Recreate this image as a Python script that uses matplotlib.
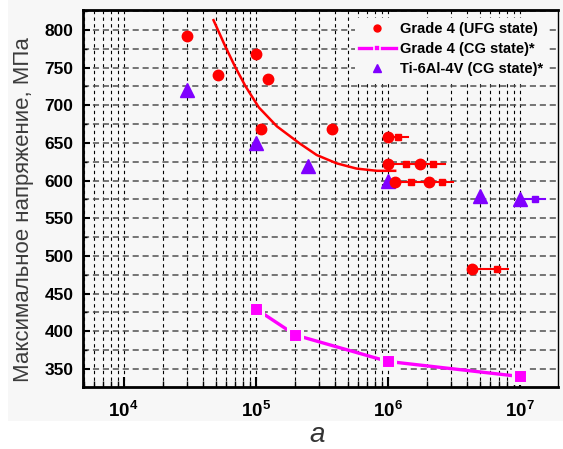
"""Усталостные кривые: Grade 4 (UFG / CG) и Ti-6Al-4V."""
import matplotlib
matplotlib.use("Agg")
import matplotlib.pyplot as plt
from matplotlib.patches import Rectangle
from matplotlib.ticker import LogLocator, MultipleLocator, FixedLocator, FixedFormatter, NullFormatter

plt.rcParams["font.family"] = ["Liberation Sans", "DejaVu Sans"]

# Grade 4 (UFG state) — точки
ufg_n = [3.0e4, 5.2e4, 1.0e5, 1.09e5, 1.25e5, 3.8e5, 1.0e6, 1.0e6, 1.75e6, 1.14e6, 2.04e6, 4.35e6]
ufg_s = [792, 740, 768, 668, 735, 668, 658, 622, 622, 598, 598, 483]

# аппроксимирующая кривая UFG
fit_n = [4.8e4, 5.9e4, 7.0e4, 8.4e4, 1.06e5, 1.45e5, 2.17e5, 2.9e5, 4.1e5, 5.8e5, 8.3e5, 1.14e6]
fit_s = [813, 778, 751, 725, 697, 672, 649, 634, 623, 616, 613, 613]

# стрелки "не разрушился" (UFG): уровень, начало, конец, метки-квадраты
runout_s = [658, 622, 598, 483]
runout_start = [1.0e6, 1.0e6, 1.14e6, 4.35e6]
runout_end = [1.42e6, 2.7e6, 3.1e6, 8.1e6]
runout_marks = [[1.19e6], [1.38e6, 2.2e6], [1.51e6, 2.6e6], [6.7e6]]

# Grade 4 (CG state)*
cg_n = [1e5, 2e5, 1e6, 1e7]
cg_s = [430, 395, 360, 340]

# Ti-6Al-4V (CG state)*
ti_n = [3e4, 1e5, 2.5e5, 1e6, 5e6, 1e7]
ti_s = [720, 650, 620, 600, 580, 575]
ti_runout = [1.0e7, 1.3e7, 1.55e7]

RED = "#ff0000"
MAG = "#ff00ff"
VIO = "#8000ff"
BG = "#f7f7f7"

fig = plt.figure(figsize=(5.63, 4.49), dpi=100, facecolor="white")
fig.patches.append(Rectangle((8 / 563, 28 / 449), 1, 1, transform=fig.transFigure,
                             facecolor=BG, edgecolor="none", zorder=-10))
ax = fig.add_axes([83 / 563, 1 - 387 / 449, (558 - 83) / 563, (387 - 10) / 449])
ax.set_facecolor(BG)
ax.set_xscale("log")
ax.set_xlim(4.93e3, 1.95e7)
ax.set_ylim(326, 826.5)

# сетка
ax.xaxis.set_major_locator(FixedLocator([1e4, 1e5, 1e6, 1e7]))
ax.xaxis.set_major_formatter(FixedFormatter([r"$\mathdefault{10^{4}}$", r"$\mathdefault{10^{5}}$",
                                             r"$\mathdefault{10^{6}}$", r"$\mathdefault{10^{7}}$"]))
ax.xaxis.set_minor_locator(LogLocator(base=10, subs=range(2, 10), numticks=20))
ax.xaxis.set_minor_formatter(NullFormatter())
ax.yaxis.set_major_locator(MultipleLocator(50))
ax.yaxis.set_minor_locator(MultipleLocator(25))
ax.grid(which="both", axis="x", color="black", linestyle=(0, (3, 3)), linewidth=0.8, zorder=0)
ax.grid(which="both", axis="y", color="#505050", linestyle=(0, (4, 2.5)), linewidth=1.1, zorder=0)
ax.set_axisbelow(True)

# Ti-6Al-4V
ax.plot(ti_n, ti_s, linestyle="none", marker="^", ms=9.5, color=VIO, zorder=3,
        label="Ti-6Al-4V (CG state)*")
ax.plot([ti_runout[0], ti_runout[2]], [ti_s[-1]] * 2, color=VIO, lw=1.5, zorder=2)
ax.plot([ti_runout[1]], [ti_s[-1]], marker="s", ms=4.5, color=VIO, linestyle="none", zorder=2)

# Grade 4 UFG
ax.plot(fit_n, fit_s, color=RED, lw=1.8, zorder=2)
for s, x0, x1, marks in zip(runout_s, runout_start, runout_end, runout_marks):
    ax.plot([x0, x1], [s, s], color=RED, lw=1.5, zorder=3)
    ax.plot(marks, [s] * len(marks), marker="s", ms=4.5, color=RED, linestyle="none", zorder=3)
ax.plot(ufg_n, ufg_s, linestyle="none", marker="o", ms=7.5, color=RED, zorder=4,
        label="Grade 4 (UFG state)")

# Grade 4 CG
ax.plot(cg_n, cg_s, color=MAG, lw=2.4, marker="s", ms=9.4, mfc=MAG, mec=BG, mew=2.2, zorder=3,
        label="Grade 4 (CG state)*")

# оси
for side in ("left", "bottom", "top"):
    ax.spines[side].set_linewidth(2)
ax.spines["right"].set_linewidth(1)
ax.tick_params(axis="x", which="major", direction="in", length=7, width=1.5, top=False, pad=10)
ax.tick_params(axis="x", which="minor", direction="in", length=4, width=1, top=False)
ax.tick_params(axis="y", which="major", direction="in", length=5, width=1.5, right=False, pad=7)
ax.tick_params(axis="y", which="minor", direction="in", length=3, width=1, right=False)
for lbl in ax.get_xticklabels():
    lbl.set_fontsize(13.5)
    lbl.set_fontweight("bold")
for lbl in ax.get_yticklabels():
    lbl.set_fontsize(12.5)
    lbl.set_fontweight("bold")

ax.set_ylabel("Максимальное напряжение, МПа", fontsize=16, color="#3c3c3c")
ax.yaxis.set_label_coords(-0.103, 0.47)
fig.text(317.5 / 563, 1 - 435 / 449, "a", fontsize=20, style="italic", color="#333333",
         ha="center", va="center")

handles, labels = ax.get_legend_handles_labels()
order = [labels.index("Grade 4 (UFG state)"), labels.index("Grade 4 (CG state)*"),
         labels.index("Ti-6Al-4V (CG state)*")]
leg = ax.legend([handles[i] for i in order], [labels[i] for i in order],
                loc="upper right", bbox_to_anchor=(0.978, 0.980), frameon=True,
                facecolor=BG, edgecolor="none", framealpha=1, fancybox=False,
                borderpad=0.3, borderaxespad=0, handlelength=2.5, handletextpad=0.3,
                labelspacing=0.42, prop={"weight": "bold", "size": 10.5})
sizes = [5, 5, 6]
for h, ms in zip(leg.legend_handles, sizes):
    h.set_markersize(ms)
leg.legend_handles[1].set_markeredgewidth(1.2)

fig.savefig("out.png", dpi=100, facecolor=fig.get_facecolor())
